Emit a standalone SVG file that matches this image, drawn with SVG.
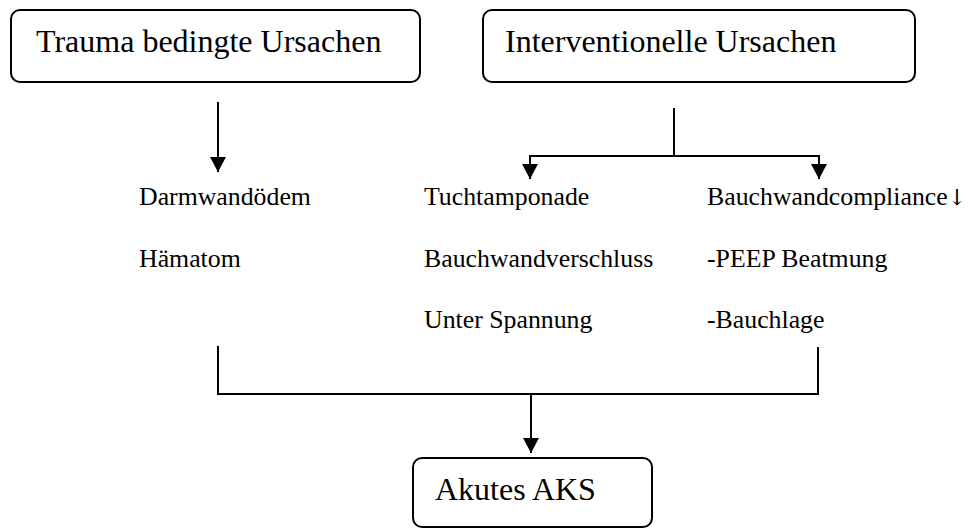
<svg xmlns="http://www.w3.org/2000/svg" width="968" height="528" viewBox="0 0 968 528">
<style>
.box{fill:#fff;stroke:#000;stroke-width:2}
text{font-family:'Liberation Serif','Times New Roman','DejaVu Serif',serif;fill:#000}
.big{font-size:32px}
.sm{font-size:25.8px}
.ln{fill:none;stroke:#000;stroke-width:2}
</style>
<defs>
<marker id="ah" markerUnits="userSpaceOnUse" markerWidth="16" markerHeight="16" refX="15" refY="8" orient="auto">
<path d="M0,0 L15,8 L0,16 Z" fill="#000"/>
</marker>
</defs>
<g id="trauma">
<rect class="box" x="11" y="10" width="409" height="72" rx="9"/>
<text class="big" x="36" y="52">Trauma bedingte Ursachen</text>
</g>
<g id="interventionell">
<rect class="box" x="483" y="10" width="432" height="72" rx="9"/>
<text class="big" x="505" y="52">Interventionelle Ursachen</text>
</g>
<g id="trauma-items">
<text class="sm" x="139" y="205">Darmwandödem</text>
<text class="sm" x="139" y="267">Hämatom</text>
</g>
<g id="tuch-items">
<text class="sm" x="424" y="205">Tuchtamponade</text>
<text class="sm" x="424" y="267">Bauchwandverschluss</text>
<text class="sm" x="424" y="328">Unter Spannung</text>
</g>
<g id="compliance-items">
<text class="sm" x="707" y="205">Bauchwandcompliance<tspan font-family="'DejaVu Serif',serif" font-size="22px">↓</tspan></text>
<text class="sm" x="707" y="267">-PEEP Beatmung</text>
<text class="sm" x="707" y="328">-Bauchlage</text>
</g>
<g id="aks">
<rect class="box" x="413" y="458" width="239" height="69" rx="9"/>
<text class="big" x="435" y="500">Akutes AKS</text>
</g>
<g id="connectors">
<line class="ln" x1="218" y1="102" x2="218" y2="172" marker-end="url(#ah)"/>
<line class="ln" x1="674" y1="108" x2="674" y2="156"/>
<path class="ln" d="M530,156 L819,156"/>
<line class="ln" x1="530" y1="155" x2="530" y2="179" marker-end="url(#ah)"/>
<line class="ln" x1="819" y1="155" x2="819" y2="179" marker-end="url(#ah)"/>
<path class="ln" d="M218,346 L218,394 L818,394 L818,347"/>
<line class="ln" x1="531" y1="394" x2="531" y2="453" marker-end="url(#ah)"/>
</g>
</svg>
